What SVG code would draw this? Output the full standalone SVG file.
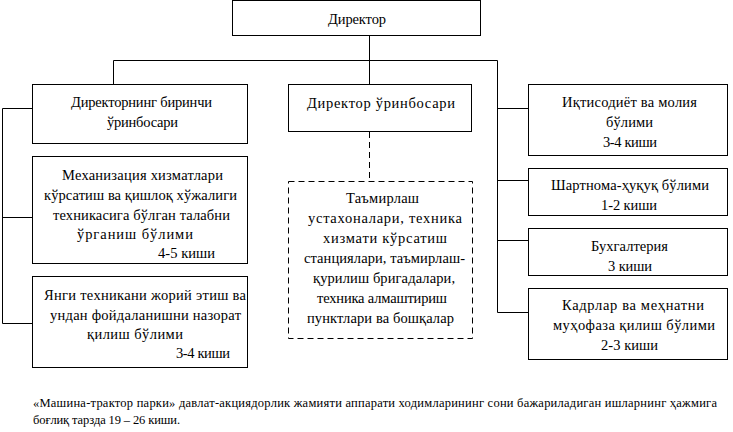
<svg xmlns="http://www.w3.org/2000/svg" width="733" height="432" viewBox="0 0 733 432">
<style>
.b{fill:#fff;stroke:#000;stroke-width:1}
.d{fill:#fff;stroke:#000;stroke-width:1;stroke-dasharray:6 4}
.c{fill:none;stroke:#000;stroke-width:1}
.cd{fill:none;stroke:#000;stroke-width:1;stroke-dasharray:6 4}
.t{font-size:14.5px;fill:#000;dominant-baseline:central}
.f{font-size:12.5px;fill:#000}
</style>
<rect width="733" height="432" fill="#fff"/>
<g id="connectors">
<path class="c" d="M369.5 36 V84 M113.5 84 V60.5 H497.5 V312.5 H528 M497.5 108.5 H528 M497.5 180.5 H528 M497.5 240.5 H528"/>
<path class="c" d="M32 108.5 H2.5 V323.5 H32 M2.5 217.5 H32"/>
<path class="cd" d="M369.5 132 V181"/>
</g>
<g id="director">
<rect class="b" x="232.5" y="0.5" width="248" height="35"/>
<text class="t" style="font-family:'Liberation Serif',serif" x="328" y="19" textLength="58">Директор</text>
</g>
<g id="first-deputy">
<rect class="b" x="32.5" y="84.5" width="215" height="59"/>
<text class="t" style="font-family:'Liberation Serif',serif" x="71" y="102" textLength="141">Директорнинг биринчи</text>
<text class="t" style="font-family:'Liberation Serif',serif" x="107" y="122" textLength="71">ўринбосари</text>
</g>
<g id="mechanization">
<rect class="b" x="32.5" y="156.5" width="215" height="107"/>
<text class="t" style="font-family:'Liberation Serif',serif" x="62" y="175" textLength="161">Механизация хизматлари</text>
<text class="t" style="font-family:'Liberation Serif',serif" x="44" y="195" textLength="193">кўрсатиш ва қишлоқ хўжалиги</text>
<text class="t" style="font-family:'Liberation Serif',serif" x="53" y="215" textLength="177">техникасига бўлган талабни</text>
<text class="t" style="font-family:'Liberation Serif',serif" x="77" y="234" textLength="116">ўрганиш бўлими</text>
<text class="t" style="font-family:'Liberation Serif',serif" x="158" y="253" textLength="57">4-5 киши</text>
</g>
<g id="new-tech">
<rect class="b" x="32.5" y="276.5" width="215" height="91"/>
<text class="t" style="font-family:'Liberation Serif',serif" x="44" y="295" textLength="202">Янги техникани жорий этиш ва</text>
<text class="t" style="font-family:'Liberation Serif',serif" x="50" y="315" textLength="191">ундан фойдаланишни назорат</text>
<text class="t" style="font-family:'Liberation Serif',serif" x="87" y="334" textLength="96">қилиш бўлими</text>
<text class="t" style="font-family:'Liberation Serif',serif" x="176" y="353" textLength="54">3-4 киши</text>
</g>
<g id="deputy">
<rect class="b" x="288.5" y="84.5" width="183" height="47"/>
<text class="t" style="font-family:'Liberation Serif',serif" x="307" y="103" textLength="148">Директор ўринбосари</text>
</g>
<g id="repair">
<rect class="d" x="288.5" y="181.5" width="184" height="157"/>
<text class="t" style="font-family:'Liberation Serif',serif" x="346" y="198" textLength="73">Таъмирлаш</text>
<text class="t" style="font-family:'Liberation Serif',serif" x="308" y="218" textLength="154">устахоналари, техника</text>
<text class="t" style="font-family:'Liberation Serif',serif" x="323" y="238" textLength="124">хизмати кўрсатиш</text>
<text class="t" style="font-family:'Liberation Serif',serif" x="304" y="258" textLength="161">станциялари, таъмирлаш-</text>
<text class="t" style="font-family:'Liberation Serif',serif" x="313" y="278" textLength="142">қурилиш бригадалари,</text>
<text class="t" style="font-family:'Liberation Serif',serif" x="317" y="298" textLength="130">техника алмаштириш</text>
<text class="t" style="font-family:'Liberation Serif',serif" x="307" y="318" textLength="147">пунктлари ва бошқалар</text>
</g>
<g id="economics">
<rect class="b" x="528.5" y="84.5" width="199" height="71"/>
<text class="t" style="font-family:'Liberation Serif',serif" x="562" y="102" textLength="135">Иқтисодиёт ва молия</text>
<text class="t" style="font-family:'Liberation Serif',serif" x="606" y="122" textLength="47">бўлими</text>
<text class="t" style="font-family:'Liberation Serif',serif" x="603" y="142" textLength="54">3-4 киши</text>
</g>
<g id="contract">
<rect class="b" x="528.5" y="168.5" width="199" height="47"/>
<text class="t" style="font-family:'Liberation Serif',serif" x="551" y="185" textLength="158">Шартнома-ҳуқуқ бўлими</text>
<text class="t" style="font-family:'Liberation Serif',serif" x="601" y="205" textLength="56">1-2 киши</text>
</g>
<g id="accounting">
<rect class="b" x="528.5" y="228.5" width="199" height="47"/>
<text class="t" style="font-family:'Liberation Serif',serif" x="591" y="246" textLength="77">Бухгалтерия</text>
<text class="t" style="font-family:'Liberation Serif',serif" x="608" y="266" textLength="44">3 киши</text>
</g>
<g id="hr">
<rect class="b" x="528.5" y="288.5" width="199" height="71"/>
<text class="t" style="font-family:'Liberation Serif',serif" x="562" y="305" textLength="142">Кадрлар ва меҳнатни</text>
<text class="t" style="font-family:'Liberation Serif',serif" x="553" y="325" textLength="162">муҳофаза қилиш бўлими</text>
<text class="t" style="font-family:'Liberation Serif',serif" x="601" y="345" textLength="57">2-3 киши</text>
</g>
<g id="note">
<text class="f" style="font-family:'Liberation Serif',serif" x="33" y="407" textLength="684">«Машина-трактор парки» давлат-акциядорлик жамияти аппарати ходимларининг сони бажариладиган ишларнинг ҳажмига</text>
<text class="f" style="font-family:'Liberation Serif',serif" x="33" y="424" textLength="147">боғлиқ тарзда 19 – 26 киши.</text>
</g>
</svg>
